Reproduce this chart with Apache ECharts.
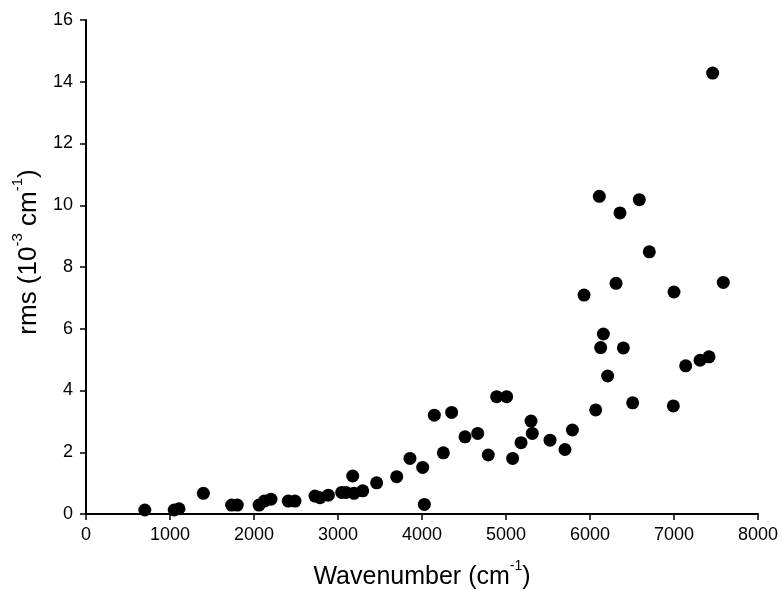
<!DOCTYPE html>
<html>
<head>
<meta charset="utf-8">
<script src="https://cdn.jsdelivr.net/npm/echarts@6/dist/echarts.min.js"></script>
<style>html,body{margin:0;padding:0;background:#fff;}#c{width:782px;height:590px;}</style>
</head>
<body>
<div id="c"></div>
<script>
var wavenumber = [700, 1050, 1107, 1397, 1734, 1801, 2060, 2123, 2202, 2408, 2488, 2726, 2786, 2885, 3044, 3095, 3175, 3190, 3294, 3460, 3699, 3857, 4008, 4028, 4147, 4254, 4353, 4512, 4663, 4789, 4889, 5008, 5079, 5179, 5298, 5313, 5524, 5702, 5790, 5929, 6068, 6111, 6127, 6159, 6210, 6310, 6357, 6397, 6508, 6587, 6706, 6992, 7000, 7139, 7310, 7417, 7460, 7587];
var rms = [0.13, 0.13, 0.17, 0.67, 0.29, 0.29, 0.29, 0.42, 0.48, 0.42, 0.42, 0.58, 0.53, 0.61, 0.70, 0.70, 1.23, 0.67, 0.75, 1.01, 1.21, 1.80, 1.51, 0.31, 3.20, 1.98, 3.29, 2.50, 2.61, 1.91, 3.80, 3.80, 1.80, 2.31, 3.01, 2.61, 2.39, 2.09, 2.72, 7.09, 3.37, 10.29, 5.39, 5.83, 4.47, 7.47, 9.75, 5.38, 3.60, 10.18, 8.49, 3.50, 7.19, 4.80, 4.98, 5.09, 14.28, 7.50];
var xTicks = [0, 1000, 2000, 3000, 4000, 5000, 6000, 7000, 8000];
var yTicks = [0, 2, 4, 6, 8, 10, 12, 14, 16];

var pts = wavenumber.map(function (x, i) { return [x, rms[i]]; });
var font = 'Liberation Sans, Arial, sans-serif';
function richName(fs) {
  return {
    a: { fontSize: fs, fontFamily: font, color: '#000', lineHeight: fs + 6, verticalAlign: 'bottom' },
    s: { fontSize: Math.round(fs * 0.58), fontFamily: font, color: '#000', lineHeight: fs + 6, verticalAlign: 'top', padding: [0, 0, Math.round(fs * 0.5), 0] }
  };
}
var chart = echarts.init(document.getElementById('c'));
chart.setOption({
  backgroundColor: '#fff',
  animation: false,
  grid: { left: 86, right: 24, top: 20, bottom: 76, containLabel: false, outerBoundsMode: 'none' },
  xAxis: {
    type: 'value', min: xTicks[0], max: xTicks[xTicks.length - 1], interval: 1000,
    splitLine: { show: false },
    axisLine: { lineStyle: { color: '#000', width: 2 } },
    axisTick: { show: true, length: 6, lineStyle: { color: '#000', width: 1.5 } },
    axisLabel: { color: '#000', fontSize: 18, fontFamily: font, margin: 12, formatter: function (v) { return String(v); } },
    name: '{a|Wavenumber (cm}{s|-1}{a|)}',
    nameLocation: 'middle', nameGap: 45,
    nameTextStyle: { rich: richName(25) }
  },
  yAxis: {
    type: 'value', min: yTicks[0], max: yTicks[yTicks.length - 1], interval: 2,
    splitLine: { show: false },
    axisLine: { show: true, lineStyle: { color: '#000', width: 2 } },
    axisTick: { show: true, length: 6, lineStyle: { color: '#000', width: 1.5 } },
    axisLabel: { color: '#000', fontSize: 18, fontFamily: font, margin: 13, formatter: function (v) { return String(v); } },
    name: '{a|rms (10}{s|-3}{a| cm}{s|-1}{a|)}',
    nameLocation: 'middle', nameGap: 44, nameRotate: 90,
    nameTextStyle: { rich: richName(26), padding: [0, 0, 0, 30] }
  },
  series: [{
    type: 'scatter',
    data: pts,
    symbol: 'circle',
    symbolSize: 13,
    itemStyle: { color: '#000', opacity: 1 }
  }]
});
</script>
</body>
</html>
